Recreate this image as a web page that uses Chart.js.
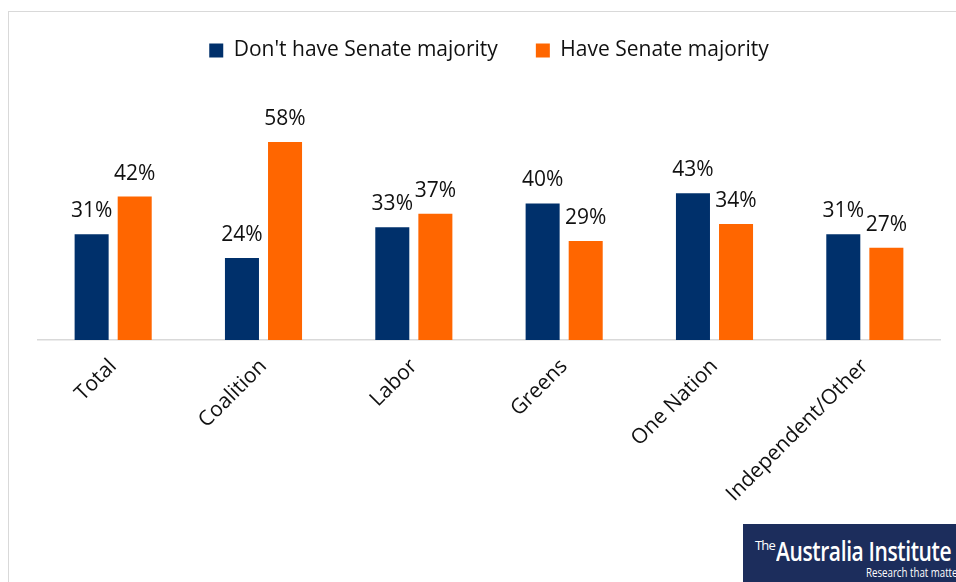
<!DOCTYPE html>
<html>
<head>
<meta charset="utf-8">
<script src="https://cdn.jsdelivr.net/npm/chart.js@4.4.1/dist/chart.umd.min.js"></script>
<style>
  html, body { margin: 0; padding: 0; background: #fff; }
  #wrap { position: relative; width: 956px; height: 582px; overflow: hidden; }
  #frame { position: absolute; left: 8px; top: 11px; width: 960px; height: 600px; border: 1px solid #d9d9d9; box-sizing: border-box; }
  #logo { position: absolute; left: 743px; top: 524px; width: 213px; height: 58px; background: #1c2d5c; overflow: hidden; color: #fff; font-family: "Open Sans", "Liberation Sans", sans-serif; }
  #logo .the { position: absolute; left: 12px; top: 12px; font-size: 13px; letter-spacing: -0.8px; white-space: nowrap; }
  #logo .main { position: absolute; left: 33px; top: 8px; white-space: nowrap; font-size: 27px; font-weight: 600; letter-spacing: -0.5px; transform-origin: 0 0; }
  #logo .sub { position: absolute; left: 123px; top: 39px; white-space: nowrap; font-size: 13px; transform-origin: 0 0; }
  canvas { position: absolute; left: 0; top: 0; }
</style>
</head>
<body>
<div id="wrap">
  <div id="frame"></div>
  <canvas id="c" width="956" height="582"></canvas>
  <div id="logo"><div class="the">The</div><div class="main" id="lmain">Australia Institute</div><div class="sub" id="lsub">Research that matters</div></div>
</div>
<script>
const categories = ["Total", "Coalition", "Labor", "Greens", "One Nation", "Independent/Other"];
const seriesNames = ["Don't have Senate majority", "Have Senate majority"];
const dontHave = [31, 24, 33, 40, 43, 31];
const have = [42, 58, 37, 29, 34, 27];

const FONT = '"Open Sans", "Liberation Sans", sans-serif';

function fitWidth(id, target) {
  const el = document.getElementById(id);
  const w = el.scrollWidth;
  if (w > 0) el.style.transform = 'scaleX(' + (target / w) + ')';
}
fitWidth('lmain', 175);
fitWidth('lsub', 100);

const valueLabels = {
  id: 'valueLabels',
  afterDatasetsDraw(chart) {
    const ctx = chart.ctx;
    ctx.save();
    ctx.font = '21px ' + FONT;
    ctx.fillStyle = '#111';
    ctx.textAlign = 'center';
    ctx.textBaseline = 'alphabetic';
    chart.data.datasets.forEach((ds, i) => {
      const meta = chart.getDatasetMeta(i);
      meta.data.forEach((bar, j) => {
        ctx.fillText(ds.data[j] + '%', bar.x, bar.y - 17);
      });
    });
    ctx.restore();
  }
};

new Chart(document.getElementById('c'), {
  type: 'bar',
  data: {
    labels: categories,
    datasets: [
      { label: seriesNames[0], data: dontHave, backgroundColor: '#00306b' },
      { label: seriesNames[1], data: have, backgroundColor: '#ff6600' }
    ]
  },
  options: {
    responsive: false,
    animation: false,
    layout: { padding: { left: 38, right: 16, top: 2, bottom: 0 } },
    datasets: { bar: { categoryPercentage: 0.573, barPercentage: 0.79 } },
    plugins: {
      legend: {
        position: 'top',
        labels: {
          font: { family: FONT, size: 21 },
          color: '#111',
          boxWidth: 14,
          boxHeight: 14,
          padding: 38
        }
      },
      tooltip: { enabled: false }
    },
    scales: {
      x: {
        grid: { display: false },
        border: { color: '#d9d9d9', width: 1.5 },
        ticks: {
          font: { family: FONT, size: 21 },
          color: '#111',
          maxRotation: 45,
          minRotation: 45,
          padding: 6
        },
        afterFit(scale) { scale.height = 242; }
      },
      y: {
        display: false,
        min: 0,
        max: 78.8
      }
    }
  },
  plugins: [valueLabels]
});
</script>
</body>
</html>
